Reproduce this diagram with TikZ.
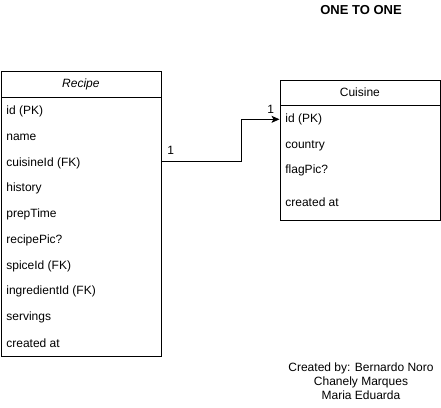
\documentclass[tikz,border=0pt]{standalone}
\usepackage{fontspec}
\setmainfont{Liberation Sans}
\usetikzlibrary{arrows.meta, positioning}

\begin{document}
\begin{tikzpicture}[x=1pt,y=-1pt,line width=0.8pt,font=\fontsize{12}{14}\selectfont]
  \tikzstyle{table}=[draw, rectangle, inner sep=0pt, anchor=north west]
  \tikzstyle{field}=[anchor=west, inner sep=0pt]

  \useasboundingbox (0,0) rectangle (441,407);

  % Recipe
  \node[table, minimum width=160pt, minimum height=26pt](recipe) at (0.5,70.5) {\textit{Recipe}};
  \node[table, minimum width=160pt, minimum height=259pt, anchor=north](recipe_body) at (recipe.south) {};
  \foreach \name [count=\i from 0] in {id (PK), name, cuisineId (FK), history, prepTime,
      recipePic?, spiceId (FK), ingredientId (FK), servings, created at}
    \node[field](r_\i) at (6, 111.7+25.7*\i) {\name};

  % Cuisine
  \node[table, minimum width=160pt, minimum height=25pt](cuisine) at (279.5,79.5) {Cuisine};
  \node[table, minimum width=160pt, minimum height=115pt, anchor=north](cuisine_body) at (cuisine.south) {};
  \node[field](c_0) at (285,119.3) {id (PK)};
  \node[field](c_1) at (285,146) {country};
  \node[field](c_2) at (285,170.5) {flagPic?};
  \node[field](c_3) at (285,202.7) {created at};

  \coordinate (src) at (recipe_body.east |- 0,161);
  \draw[-{Stealth[length=8pt,width=7pt,inset=2pt]}] (src) -- ++(80,0) |- (cuisine_body.west |- c_0);
  \node (one_a) at (170.7,150) {1};
  \node (one_b) at (270.7,109) {1};

  \node[font=\bfseries\fontsize{13}{15}\selectfont](title) at (361,10) {ONE TO ONE};
  \node[align=center](credits) at (361,381) {Created by: Bernardo Noro\\Chanely Marques\\Maria Eduarda};
\end{tikzpicture}
\end{document}
